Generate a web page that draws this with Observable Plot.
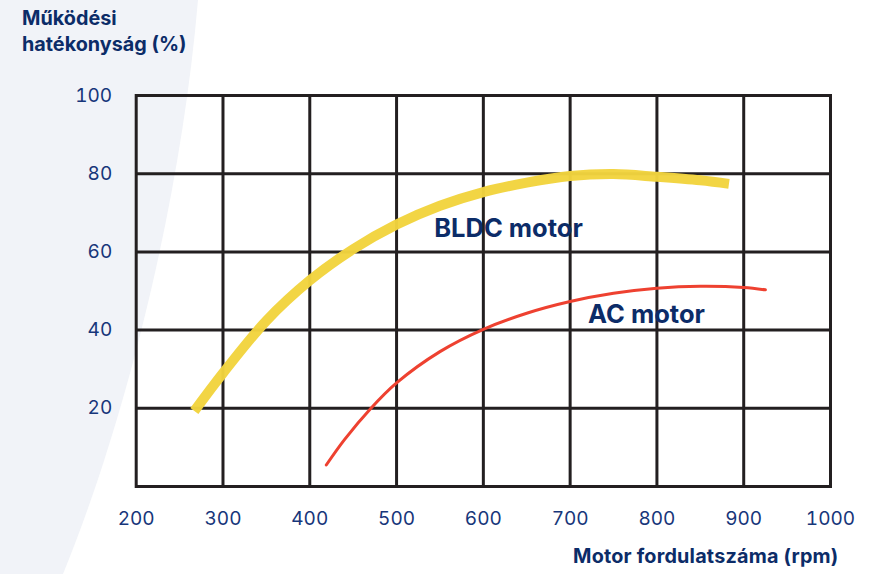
<!DOCTYPE html>
<html>
<head>
<meta charset="utf-8">
<script src="https://cdn.jsdelivr.net/npm/d3@7"></script>
<script src="https://cdn.jsdelivr.net/npm/@observablehq/plot@0.6"></script>
<style>
  html, body { margin: 0; padding: 0; background: #ffffff; }
  #wrap { position: relative; width: 870px; height: 574px; overflow: hidden; font-family: Inter, "Noto Sans", sans-serif; }
  #bg { position: absolute; left: 0; top: 0; }
  #chart { position: absolute; left: 0; top: 0; }
  .ttl { position: absolute; color: #0c2c68; font-weight: 700; font-size: 19.8px; line-height: 25.7px; white-space: nowrap; }
</style>
</head>
<body>
<div id="wrap">
  <svg id="bg" width="870" height="574"><path d="M0,0 L198,0 C180,210 122,430 63,574 L0,574 Z" fill="#f1f3f8"/></svg>
  <div id="chart"></div>
  <div class="ttl" style="left:22px; top:6px;">Működési<br>hatékonyság (%)</div>
  <div class="ttl" style="left:573px; top:544px; letter-spacing:0.2px;">Motor fordulatszáma (rpm)</div>
</div>
<script>
const xTicks = [200, 300, 400, 500, 600, 700, 800, 900, 1000];
const yTicks = [20, 40, 60, 80, 100];
const yGrid = [20, 40, 60, 80];

const bldcRpm = [267, 300, 350, 400, 450, 500, 550, 600, 650, 700, 750, 800, 850, 883];
const bldcEff = [19.3, 29.0, 42.4, 52.7, 60.7, 67.0, 71.8, 75.3, 77.7, 79.4, 79.9, 79.2, 78.3, 77.4];

const acRpm = [419, 440, 470, 500, 550, 600, 650, 700, 750, 800, 850, 900, 925];
const acEff = [5.5, 12.0, 19.9, 26.5, 34.5, 40.2, 44.3, 47.3, 49.4, 50.7, 51.2, 50.9, 50.3];

const labels = [
  {rpm: 629, eff: 66.0, text: "BLDC motor"},
  {rpm: 788, eff: 44.0, text: "AC motor"}
];

const bldc = bldcRpm.map((r, i) => ({rpm: r, eff: bldcEff[i]}));
const ac = acRpm.map((r, i) => ({rpm: r, eff: acEff[i]}));

const navy = "#17367a";
const gridColor = "#231f20";

const chart = Plot.plot({
  width: 870,
  height: 574,
  marginLeft: 135.7,
  marginRight: 40,
  marginTop: 95,
  marginBottom: 88,
  style: {background: "transparent", fontFamily: "Inter, 'Noto Sans', sans-serif"},
  x: {domain: [200, 1000]},
  y: {domain: [0, 100]},
  marks: [
    Plot.gridX(xTicks.slice(1, -1), {stroke: gridColor, strokeOpacity: 1, strokeWidth: 3}),
    Plot.gridY(yGrid, {stroke: gridColor, strokeOpacity: 1, strokeWidth: 3}),
    Plot.frame({stroke: gridColor, strokeWidth: 3}),
    Plot.line(bldc, {x: "rpm", y: "eff", curve: "catmull-rom", stroke: "#f2d43e", strokeWidth: 10, strokeLinecap: "butt", strokeOpacity: 0.97}),
    Plot.line(ac, {x: "rpm", y: "eff", curve: "catmull-rom", stroke: "#ee4130", strokeWidth: 3, strokeLinecap: "round"}),
    Plot.text(labels, {x: "rpm", y: "eff", text: "text", fill: "#0c2c68", fontSize: 25.5, fontWeight: 700, textAnchor: "middle"}),
    Plot.axisX(xTicks, {tickSize: 0, tickPadding: 25, fontSize: 19, fill: navy, label: null, tickFormat: d => String(d)}),
    Plot.axisY(yTicks, {tickSize: 0, tickPadding: 24, fontSize: 19, fill: navy, label: null, tickFormat: d => String(d)})
  ]
});
document.getElementById("chart").appendChild(chart);
</script>
</body>
</html>
